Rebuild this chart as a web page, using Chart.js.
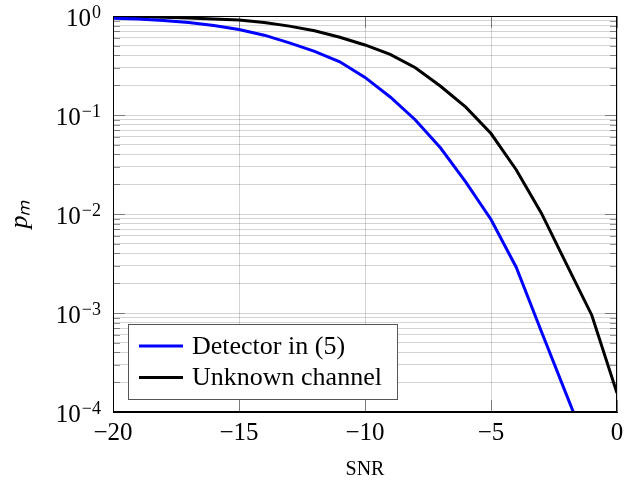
<!DOCTYPE html>
<html><head><meta charset="utf-8">
<script src="https://cdn.jsdelivr.net/npm/chart.js@4"></script>
<style>html,body{margin:0;padding:0;background:#fff}</style>
</head><body>
<canvas id="c" width="632" height="482"></canvas>
<script>
// ---- data ----
const snr = [-20,-19,-18,-17,-16,-15,-14,-13,-12,-11,-10,-9,-8,-7,-6,-5,-4,-3,-2,-1,0];
const detectorIn5 = [0.95,0.93,0.90,0.86,0.80,0.73,0.64,0.535,0.44,0.345,0.24,0.152,0.089,0.0464,0.021,0.0088,0.0029,0.00065,0.000148,0.000034,null];
const unknownChannel = [0.99,0.985,0.972,0.955,0.935,0.91,0.86,0.79,0.71,0.61,0.51,0.41,0.30,0.195,0.12,0.065,0.028,0.0102,0.0031,0.00095,0.000155];
const seriesLabels = ['Detector in (5)', 'Unknown channel'];
const xTickValues = [-20,-15,-10,-5,0];
const yDecades = [-4,-3,-2,-1,0];
const yMinorMultipliers = [1,2,3,4,5,6,7,8,9];

function isDecade(v){ const l=Math.log10(v); return Math.abs(l-Math.round(l))<1e-9; }
function minusFmt(n){ return n < 0 ? '\u2212' + Math.abs(n) : String(n); }

const yTickValues = [];
yDecades.forEach(d => {
  if (d === yDecades[yDecades.length-1]) { yTickValues.push(Math.pow(10,d)); return; }
  yMinorMultipliers.forEach(m => yTickValues.push(m*Math.pow(10,d)));
});

const GRID = 'rgba(0,0,0,0.17)';
const TICK = 'rgba(0,0,0,0.42)';
const SERIF = '"Liberation Serif", "Times New Roman", serif';

const innerTicks = {
  id: 'innerTicks',
  beforeDatasetsDraw(chart){
    const {ctx, chartArea: a} = chart;
    const ys = chart.scales.y, xs = chart.scales.x;
    ctx.save();
    ctx.strokeStyle = TICK; ctx.lineWidth = 1;
    ys.ticks.forEach(t => {
      const y = Math.round(ys.getPixelForValue(t.value)) + 0.5;
      const len = isDecade(t.value) ? 12 : 7;
      ctx.beginPath();
      ctx.moveTo(a.left, y); ctx.lineTo(a.left+len, y);
      ctx.moveTo(a.right, y); ctx.lineTo(a.right-len, y);
      ctx.stroke();
    });
    xs.ticks.forEach(t => {
      const x = Math.round(xs.getPixelForValue(t.value)) + 0.5;
      ctx.beginPath();
      ctx.moveTo(x, a.bottom); ctx.lineTo(x, a.bottom-12);
      ctx.moveTo(x, a.top); ctx.lineTo(x, a.top+12);
      ctx.stroke();
    });
    ctx.restore();
  },
  afterDatasetsDraw(chart){
    const {ctx, chartArea: a} = chart;
    ctx.save();
    ctx.strokeStyle = '#000'; ctx.lineWidth = 1;
    ctx.strokeRect(Math.round(a.left)+0.5, Math.round(a.top)+0.5, Math.round(a.right-a.left)-1, Math.round(a.bottom-a.top)-1);
    // y tick labels as 10^k with raised exponent
    const ys = chart.scales.y;
    const right = a.left - 12;
    ys.ticks.forEach(t => {
      if (!isDecade(t.value)) return;
      const y = ys.getPixelForValue(t.value);
      const exp = minusFmt(Math.round(Math.log10(t.value)));
      ctx.fillStyle = '#000';
      ctx.textBaseline = 'alphabetic';
      ctx.textAlign = 'right';
      ctx.font = '18px ' + SERIF;
      ctx.fillText(exp, right, y + 1.5);
      const ew = ctx.measureText(exp).width;
      ctx.font = '25px ' + SERIF;
      ctx.fillText('10', right - ew - 1, y + 10);
    });
    ctx.restore();
  }
};

const boxLegend = {
  id: 'boxLegend',
  afterDraw(chart){
    const ctx = chart.ctx;
    ctx.save();
    const bx = 128.5, by = 324.5, bw = 269, bh = 75;
    ctx.fillStyle = '#fff';
    ctx.fillRect(bx, by, bw, bh);
    ctx.strokeStyle = '#555'; ctx.lineWidth = 1;
    ctx.strokeRect(bx, by, bw, bh);
    chart.data.datasets.forEach((ds, i) => {
      const y = 346 + i*31.5;
      ctx.strokeStyle = ds.borderColor; ctx.lineWidth = 3;
      ctx.beginPath(); ctx.moveTo(139, y); ctx.lineTo(183, y); ctx.stroke();
      ctx.fillStyle = '#000';
      ctx.font = '26px ' + SERIF;
      ctx.textBaseline = 'middle';
      ctx.textAlign = 'left';
      ctx.fillText(ds.label, 192, y+1);
    });
    ctx.restore();
  }
};

new Chart(document.getElementById('c'), {
  type: 'line',
  data: {
    datasets: [
      { label: seriesLabels[0], data: snr.map((x,i)=>({x, y: detectorIn5[i]})), borderColor: '#0000ff', borderWidth: 3, pointRadius: 0, tension: 0, fill: false },
      { label: seriesLabels[1], data: snr.map((x,i)=>({x, y: unknownChannel[i]})), borderColor: '#000000', borderWidth: 3, pointRadius: 0, tension: 0, fill: false }
    ]
  },
  options: {
    responsive: false,
    animation: false,
    devicePixelRatio: 1,
    layout: { padding: { left: 0, right: 15, top: 16, bottom: 0 } },
    plugins: { legend: { display: false }, tooltip: { enabled: false } },
    scales: {
      x: {
        type: 'linear', min: -20, max: 0,
        afterBuildTicks: s => { s.ticks = xTickValues.map(v => ({value: v})); },
        ticks: {
          autoSkip: false, maxRotation: 0, padding: 6, color: '#000',
          font: { family: SERIF, size: 25 },
          callback: v => minusFmt(v)
        },
        grid: { color: GRID, lineWidth: 1, drawTicks: false },
        border: { display: true, color: '#000', width: 1 },
        title: { display: true, text: 'SNR', color: '#000', font: { family: SERIF, size: 20, lineHeight: 1 }, padding: { top: 0, bottom: 2 } },
        afterFit: s => { s.height = 70; }
      },
      y: {
        type: 'logarithmic', min: 1e-4, max: 1,
        afterBuildTicks: s => { s.ticks = yTickValues.map(v => ({value: v, major: isDecade(v)})); },
        ticks: { display: false, autoSkip: false },
        grid: { color: GRID, lineWidth: 1, drawTicks: false },
        border: { display: true, color: '#000', width: 1 },
        title: { display: true, text: 'pₘ', color: '#000', font: { family: SERIF, size: 26, style: 'italic', lineHeight: 1.2 }, padding: { top: 5, bottom: 0 } },
        afterFit: s => { s.width = 113; }
      }
    }
  },
  plugins: [innerTicks, boxLegend]
});
</script>
</body></html>
